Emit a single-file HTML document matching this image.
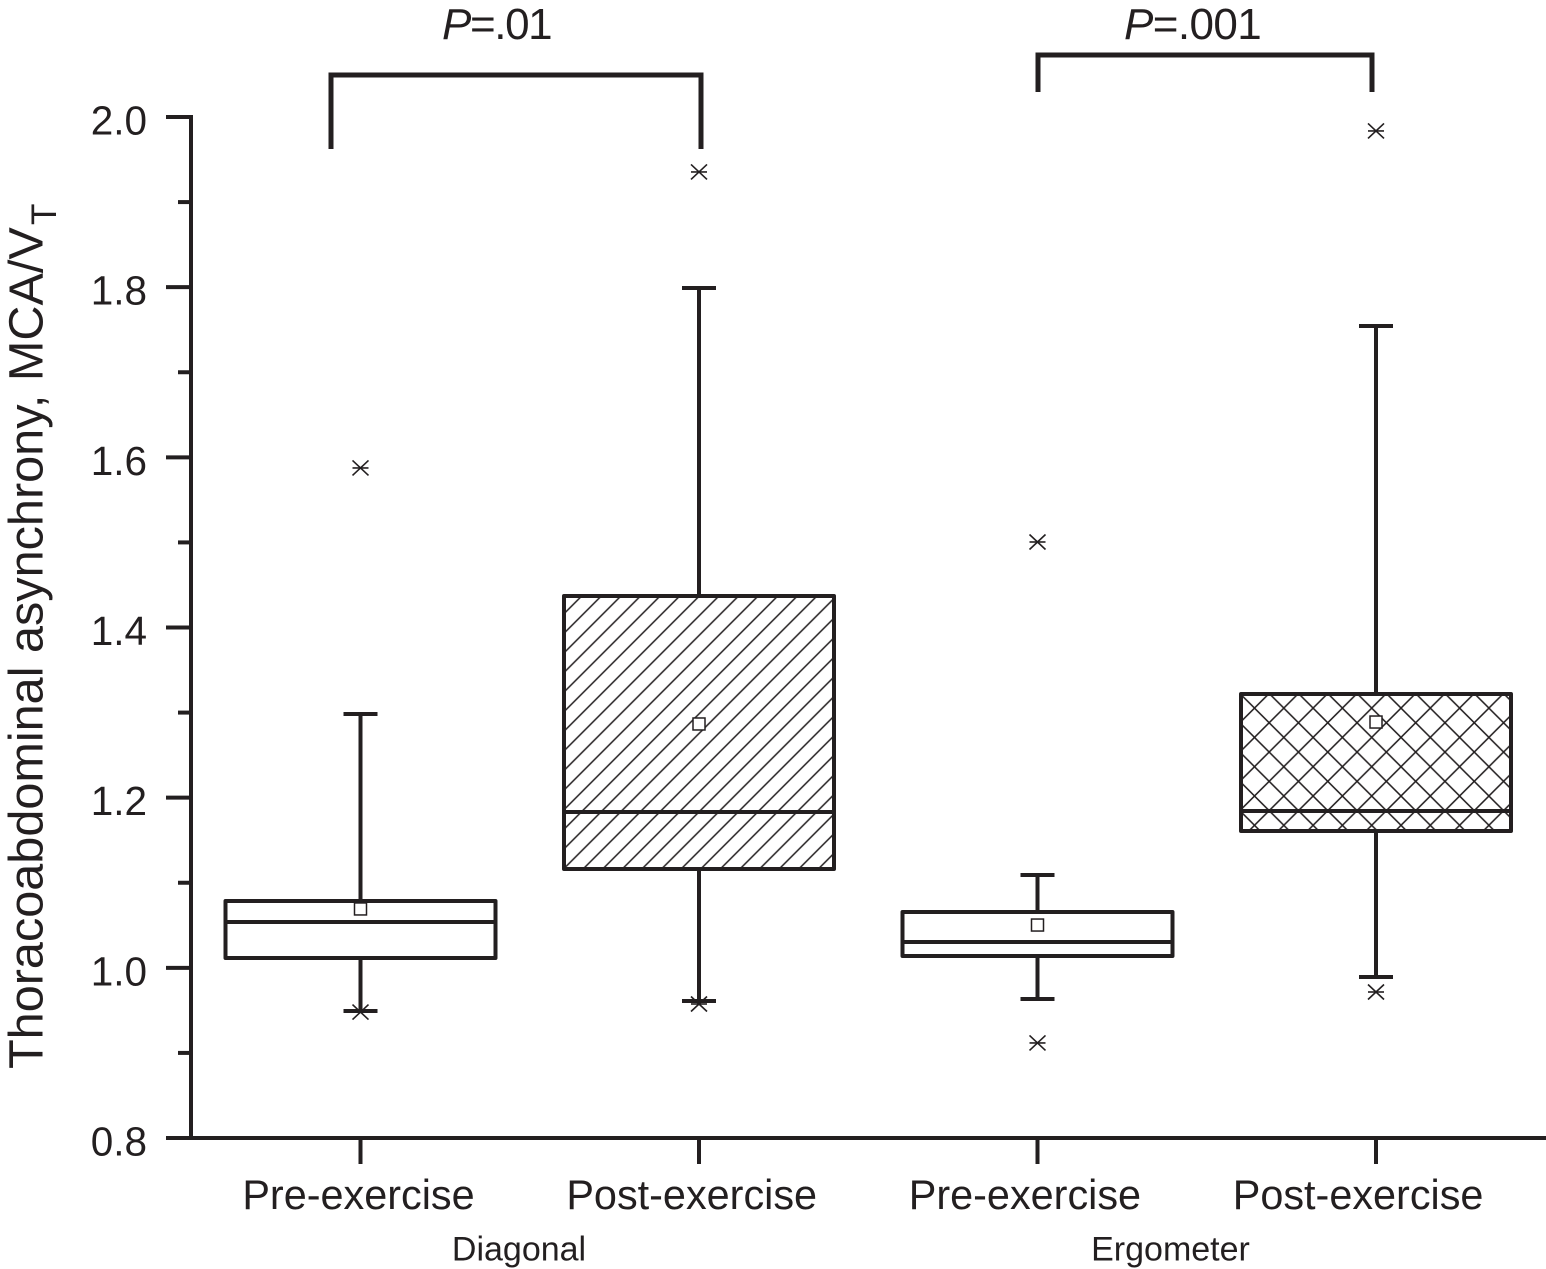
<!DOCTYPE html>
<html lang="en">
<head>
<meta charset="utf-8">
<title>Thoracoabdominal asynchrony box plot</title>
<style>
html,body{margin:0;padding:0;background:#fff;}
svg{display:block;font-family:"Liberation Sans",Arial,sans-serif;}
text{fill:#231f20;}
</style>
</head>
<body>
<svg id="chart" xmlns="http://www.w3.org/2000/svg" width="1546" height="1269" viewBox="0 0 1546 1269">
  <defs>
    <pattern id="hatch-diagonal" patternUnits="userSpaceOnUse" width="13.86" height="20" patternTransform="translate(581.7 596) rotate(45)">
      <line x1="0" y1="0" x2="0" y2="20" stroke="#231f20" stroke-width="1.5"/>
      <line x1="13.86" y1="0" x2="13.86" y2="20" stroke="#231f20" stroke-width="1.5"/>
    </pattern>
    <pattern id="hatch-cross" patternUnits="userSpaceOnUse" width="29.3" height="29.3" patternTransform="translate(1371.7 766.7)">
      <line x1="0" y1="0" x2="29.3" y2="29.3" stroke="#231f20" stroke-width="1.5"/>
      <line x1="29.3" y1="0" x2="0" y2="29.3" stroke="#231f20" stroke-width="1.5"/>
    </pattern>
  </defs>
  <rect x="0" y="0" width="1546" height="1269" fill="#fff"/>
  <g id="axes"></g>
  <g id="boxes"></g>

  <text transform="translate(42.5 1069) rotate(-90)" font-size="48.6">Thoracoabdominal asynchrony, MCA/V</text>
  <text transform="translate(56 225) rotate(-90)" font-size="35">T</text>

  <path d="M331 149V75H701V149" fill="none" stroke="#231f20" stroke-width="5"/>
  <path d="M1038 92V55H1372V92" fill="none" stroke="#231f20" stroke-width="5"/>
  <text x="442" y="39" font-size="44" letter-spacing="-1.4"><tspan font-style="italic">P</tspan>=.01</text>
  <text x="1124" y="39" font-size="44" letter-spacing="-0.6"><tspan font-style="italic">P</tspan>=.001</text>

  <text x="519" y="1260.5" font-size="34" text-anchor="middle">Diagonal</text>
  <text x="1170.5" y="1260.5" font-size="34" text-anchor="middle">Ergometer</text>
</svg>
<script>
// ---- chart data ----
const categories = ['Pre-exercise', 'Post-exercise', 'Pre-exercise', 'Post-exercise'];
const seriesNames = ['diagonal-pre', 'diagonal-post', 'ergometer-pre', 'ergometer-post'];
const hatches = ['#fff', 'url(#hatch-diagonal)', '#fff', 'url(#hatch-cross)'];
const whiskerHigh = [1.2983, 1.799, 1.1091, 1.7544];
const q3Values = [1.0786, 1.437, 1.0656, 1.3218];
const medianValues = [1.0539, 1.1832, 1.0304, 1.1843];
const q1Values = [1.0116, 1.1162, 1.0139, 1.1608];
const whiskerLow = [0.9493, 0.961, 0.9634, 0.9892];
const meanValues = [1.0692, 1.2866, 1.0503, 1.2889];
const outlierHigh = [1.5875, 1.9354, 1.5005, 1.9836];
const outlierLow = [0.948, 0.9575, 0.9117, 0.9716];
const majorTicks = [0.8, 1.0, 1.2, 1.4, 1.6, 1.8, 2.0];
const majorTickLabels = ['0.8', '1.0', '1.2', '1.4', '1.6', '1.8', '2.0'];
const minorTicks = [0.9, 1.1, 1.3, 1.5, 1.7, 1.9];

// ---- axis functions ----
const yScale = v => 1138 - (v - 0.8) * (1021 / 1.2);
const xScale = i => 360.5 + 338.5 * i;
const xLabelPos = i => 358.5 + 333.2 * i;
const INK = '#231f20';
const SVGNS = 'http://www.w3.org/2000/svg';
const LINE_W = 4;

function make(parent, tag, attrs) {
  const el = document.createElementNS(SVGNS, tag);
  for (const k in attrs) el.setAttribute(k, attrs[k]);
  parent.appendChild(el);
  return el;
}
function seg(parent, x1, y1, x2, y2, w) {
  return make(parent, 'line', {x1, y1, x2, y2, stroke: INK, 'stroke-width': w});
}

const axes = document.getElementById('axes');
const yAxisLine = seg(axes, 191, 115, 191, 1140, LINE_W);


const xAxisLine = seg(axes, 166, 1138, 1546, 1138, LINE_W);



majorTicks.forEach((v, i) => {
  const t = seg(axes, 166, yScale(v), 191, yScale(v), LINE_W);
  
  
  const l = make(axes, 'text', {x: 147, y: yScale(v) + 17.5, 'font-size': 40.5, 'text-anchor': 'end'});
  l.textContent = majorTickLabels[i];
  
  
});
minorTicks.forEach(v => {
  const t = seg(axes, 178, yScale(v), 191, yScale(v), LINE_W);
  
  
});
categories.forEach((c, i) => {
  const t = seg(axes, xScale(i), 1138, xScale(i), 1164, LINE_W);
  
  
  const l = make(axes, 'text', {x: xLabelPos(i), y: 1209, 'font-size': 41.4, 'text-anchor': 'middle'});
  l.textContent = c;
  
  
});

const boxesLayer = document.getElementById('boxes');
const HALF = 135, CAP = 17, STAR = 8;

function drawStar(g, cx, cy) {
  const a = seg(g, cx - STAR, cy - 7.5, cx + STAR, cy + 7.5, 1.6);
  
  
  const b = seg(g, cx - STAR, cy + 7.5, cx + STAR, cy - 7.5, 1.6);
  
  
  const d = seg(g, cx - STAR, cy, cx + STAR, cy, 1.6);
  
  
}

categories.forEach((c, i) => {
  const cx = xScale(i);
  const g = make(boxesLayer, 'g', {});
  
  

  const whisk = seg(g, cx, yScale(whiskerHigh[i]), cx, yScale(whiskerLow[i]), LINE_W);
  
  
  const capTop = seg(g, cx - CAP, yScale(whiskerHigh[i]), cx + CAP, yScale(whiskerHigh[i]), LINE_W);
  
  
  const capLow = seg(g, cx - CAP, yScale(whiskerLow[i]), cx + CAP, yScale(whiskerLow[i]), LINE_W);
  
  

  const top = yScale(q3Values[i]), bottom = yScale(q1Values[i]);
  const bg = make(g, 'rect', {x: cx - HALF, y: top, width: HALF * 2, height: bottom - top, fill: '#fff'});
  
  
  const rect = make(g, 'rect', {x: cx - HALF, y: top, width: HALF * 2, height: bottom - top,
    fill: hatches[i], stroke: INK, 'stroke-width': LINE_W, 'stroke-linejoin': 'round'});
  
  

  const med = seg(g, cx - HALF, yScale(medianValues[i]), cx + HALF, yScale(medianValues[i]), LINE_W);
  
  

  const mean = make(g, 'rect', {x: cx - 6, y: yScale(meanValues[i]) - 6, width: 12, height: 12,
    fill: '#fff', stroke: INK, 'stroke-width': 1.5});
  
  

  drawStar(g, cx, yScale(outlierHigh[i]));
  drawStar(g, cx, yScale(outlierLow[i]));
});
</script>
</body>
</html>
